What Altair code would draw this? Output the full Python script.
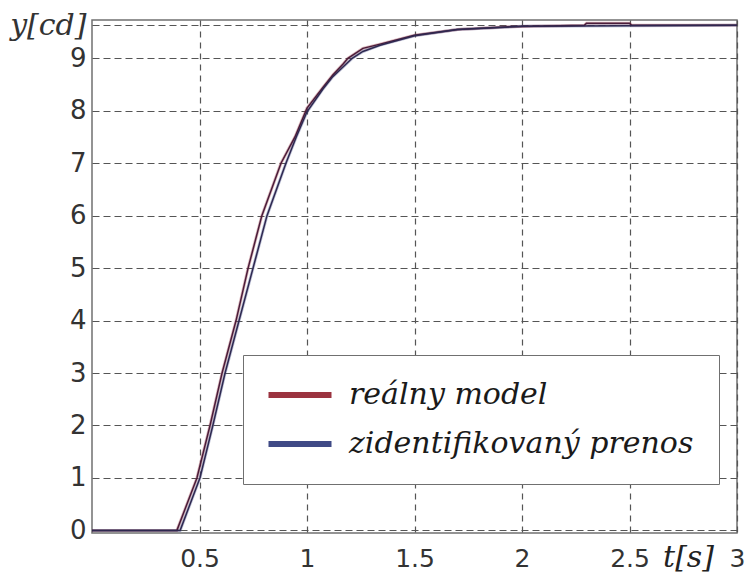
import altair as alt
import pandas as pd

# Step responses: measured model vs. identified transfer function
series_names = ["reálny model", "zidentifikovaný prenos"]

t_real = [0.0, 0.395, 0.488, 0.549, 0.605, 0.67, 0.726, 0.79, 0.879, 0.944,
          1.0, 1.075, 1.12, 1.17, 1.19, 1.26, 1.34, 1.5, 1.7, 1.94,
          2.29, 2.30, 2.50, 2.51, 3.0]
y_real = [0.0, 0.0, 1.0, 2.0, 3.0, 4.0, 5.0, 6.0, 7.0, 7.5,
          8.05, 8.45, 8.68, 8.9, 9.0, 9.19, 9.27, 9.44, 9.55, 9.6,
          9.63, 9.67, 9.67, 9.63, 9.63]

t_ident = [0.0, 0.41, 0.502, 0.562, 0.619, 0.684, 0.749, 0.814, 0.902, 0.95,
           1.0, 1.075, 1.12, 1.21, 1.26, 1.34, 1.5, 1.7, 2.0, 3.0]
y_ident = [0.0, 0.0, 1.0, 2.0, 3.0, 4.0, 5.0, 6.0, 7.0, 7.5,
           7.98, 8.42, 8.65, 9.0, 9.13, 9.25, 9.43, 9.55, 9.61, 9.63]

x_ticks = [0.5, 1, 1.5, 2, 2.5, 3]
y_ticks = [0, 1, 2, 3, 4, 5, 6, 7, 8, 9, 9.63]

legend_colors = ["#9b3340", "#3f4a86"]
line_colors = ["#4a1c3a", "#2e2850"]

rows = []
for i, (t, y) in enumerate(zip(t_real, y_real)):
    rows.append({"t": t, "y": y, "serie": series_names[0], "k": i})
for i, (t, y) in enumerate(zip(t_ident, y_ident)):
    rows.append({"t": t, "y": y, "serie": series_names[1], "k": i})
df = pd.DataFrame(rows)

serif = "DejaVu Serif"
sans = "DejaVu Sans"

x_enc = alt.X(
    "t:Q",
    scale=alt.Scale(domain=[0, 3], nice=False, zero=False),
    axis=alt.Axis(
        values=x_ticks,
        format=".1~f",
        title="t[s]",
        titleFont=serif,
        titleFontStyle="italic",
        titleFontWeight="normal",
        titleFontSize=30,
        titleColor="#222222",
        titleAlign="center",
        titleBaseline="alphabetic",
        titleX=596,
        titleY=33,
        labelFont=sans,
        labelFontSize=25,
        labelColor="#333333",
        labelPadding=13,
        labelFlush=False,
        ticks=False,
        domain=False,
        grid=True,
        gridColor="#555555",
        gridDash=[6, 5],
        gridWidth=1.2,
    ),
)

y_enc = alt.Y(
    "y:Q",
    scale=alt.Scale(domain=[-0.05, 9.73], nice=False, zero=False),
    axis=alt.Axis(
        values=y_ticks,
        labelExpr="datum.value > 9.5 ? 'y[cd]' : format(datum.value, 'd')",
        title=None,
        labelFont=alt.condition("datum.value > 9.5", alt.value(serif), alt.value(sans)),
        labelFontStyle=alt.condition("datum.value > 9.5", alt.value("italic"), alt.value("normal")),
        labelFontSize=alt.condition("datum.value > 9.5", alt.value(30), alt.value(26)),
        labelColor="#333333",
        labelPadding=6,
        labelFlush=False,
        ticks=False,
        domain=False,
        grid=True,
        gridColor="#555555",
        gridDash=[7, 4],
        gridWidth=1.2,
    ),
)

base = alt.Chart(df).encode(x=x_enc, y=y_enc, order="k:Q")

# soft coloured halo under each curve; carries the legend
halo = base.mark_line(strokeWidth=3, opacity=0.35).encode(
    color=alt.Color(
        "serie:N",
        scale=alt.Scale(domain=series_names, range=legend_colors),
        legend=alt.Legend(
            title=None,
            orient="none",
            legendX=151,
            legendY=335,
            direction="vertical",
            fillColor="white",
            strokeColor="#707070",
            padding=25,
            # long flat swatch: path is scaled by sqrt(size)/2
            symbolType="M-3,0H3",
            symbolSize=441,
            symbolOffset=17,
            symbolStrokeWidth=6,
            symbolOpacity=1,
            labelFont=serif,
            labelFontStyle="italic",
            labelFontSize=30,
            labelColor="#1a1a1a",
            labelOffset=34,
            labelLimit=600,
            rowPadding=19,
        ),
    )
)

# dark thin curves on top
core = base.mark_line(strokeWidth=1.5).encode(
    stroke=alt.Stroke(
        "serie:N",
        scale=alt.Scale(domain=series_names, range=line_colors),
        legend=None,
    )
)

chart = (
    alt.layer(halo, core)
    .properties(
        width=645,
        height=513,
        autosize=alt.AutoSizeParams(type="none"),
        padding={"left": 92, "top": 20, "right": 8, "bottom": 40},
        background="white",
    )
    .configure_view(stroke="#707070", strokeWidth=1.5)
)

chart.save("out.html", embed_options={"renderer": "svg", "actions": False})
